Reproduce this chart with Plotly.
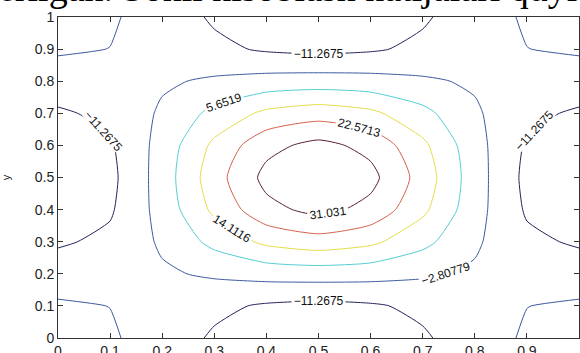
import plotly.graph_objects as go

# grid coordinates
x_vals = [0.0, 0.1, 0.2, 0.3, 0.4, 0.5, 0.6, 0.7, 0.8, 0.9, 1.0]
y_vals = [0.0, 0.1, 0.2, 0.3, 0.4, 0.5, 0.6, 0.7, 0.8, 0.9, 1.0]

# field values, rows = y, columns = x
z_rows = [
    [0.0, -1.8, -6.6, -12.4, -17.2, -19.0, -17.2, -12.4, -6.6, -1.8, 0.0],
    [-1.8, -2.9, -5.8, -9.4, -12.3, -13.5, -12.3, -9.4, -5.8, -2.9, -1.8],
    [-6.6, -5.8, -3.9, -1.6, 0.3, 1.0, 0.3, -1.6, -3.9, -5.8, -6.6],
    [-12.4, -9.4, -1.6, 8.1, 16.0, 19.0, 16.0, 8.1, -1.6, -9.4, -12.4],
    [-17.2, -12.3, 0.3, 16.0, 28.6, 33.5, 28.6, 16.0, 0.3, -12.3, -17.2],
    [-19.0, -13.5, 1.0, 19.0, 33.5, 39.0, 33.5, 19.0, 1.0, -13.5, -19.0],
    [-17.2, -12.3, 0.3, 16.0, 28.6, 33.5, 28.6, 16.0, 0.3, -12.3, -17.2],
    [-12.4, -9.4, -1.6, 8.1, 16.0, 19.0, 16.0, 8.1, -1.6, -9.4, -12.4],
    [-6.6, -5.8, -3.9, -1.6, 0.3, 1.0, 0.3, -1.6, -3.9, -5.8, -6.6],
    [-1.8, -2.9, -5.8, -9.4, -12.3, -13.5, -12.3, -9.4, -5.8, -2.9, -1.8],
    [0.0, -1.8, -6.6, -12.4, -17.2, -19.0, -17.2, -12.4, -6.6, -1.8, 0.0],
]

# contour levels
level_start = -11.26748
level_step = 8.45969
level_count = 6
level_colors = ["#23235a", "#3d5a9e", "#55ccd4", "#e4dc48", "#d4604a", "#58202e"]

tick_vals = [0.0, 0.1, 0.2, 0.3, 0.4, 0.5, 0.6, 0.7, 0.8, 0.9, 1.0]
tick_text = ["0", "0.1", "0.2", "0.3", "0.4", "0.5", "0.6", "0.7", "0.8", "0.9", "1"]

header_text = "erilgan. Sonli hisoblash natijalari quyid"

level_end = level_start + (level_count - 1) * level_step
colorscale = [[i / (level_count - 1), c] for i, c in enumerate(level_colors)]

fig = go.Figure(go.Contour(
    x=x_vals, y=y_vals, z=z_rows,
    contours=dict(start=level_start, end=level_end + 0.01, size=level_step,
                  coloring="lines", showlabels=True,
                  labelfont=dict(family="Liberation Sans, Arial, sans-serif", size=12, color="#111"),
                  labelformat=".6~g"),
    colorscale=colorscale, zmin=level_start, zmax=level_end,
    showscale=False, line=dict(width=1, smoothing=0.6),
    hoverinfo="skip",
))

axis_common = dict(
    range=[0, 1], tickvals=tick_vals, ticktext=tick_text,
    ticks="inside", ticklen=5, tickcolor="#333", mirror="ticks",
    showline=True, linecolor="#333", linewidth=1,
    showgrid=False, zeroline=False, automargin=False,
    tickfont=dict(family="Liberation Sans, Arial, sans-serif", size=14, color="#222"),
)

fig.update_layout(
    width=580, height=353,
    margin=dict(l=58, r=1, t=17, b=15, autoexpand=False),
    paper_bgcolor="white", plot_bgcolor="white",
    xaxis=dict(**axis_common),
    yaxis=dict(**axis_common,
               title=dict(text="y", font=dict(family="Liberation Sans, Arial, sans-serif", size=11, color="#222"),
                          standoff=22)),
    showlegend=False,
    annotations=[dict(
        text=header_text, xref="paper", yref="paper",
        x=-62 / 521, y=1.09, xanchor="left", yanchor="middle",
        showarrow=False,
        font=dict(family="Liberation Serif, Times New Roman, serif", size=38, color="#000"),
    )],
)

# remove the browser's default 8px body margin so the figure sits at the page corner
fig.write_html("out.html", config={"displayModeBar": False},
               post_script="document.body.style.margin='0px';")
